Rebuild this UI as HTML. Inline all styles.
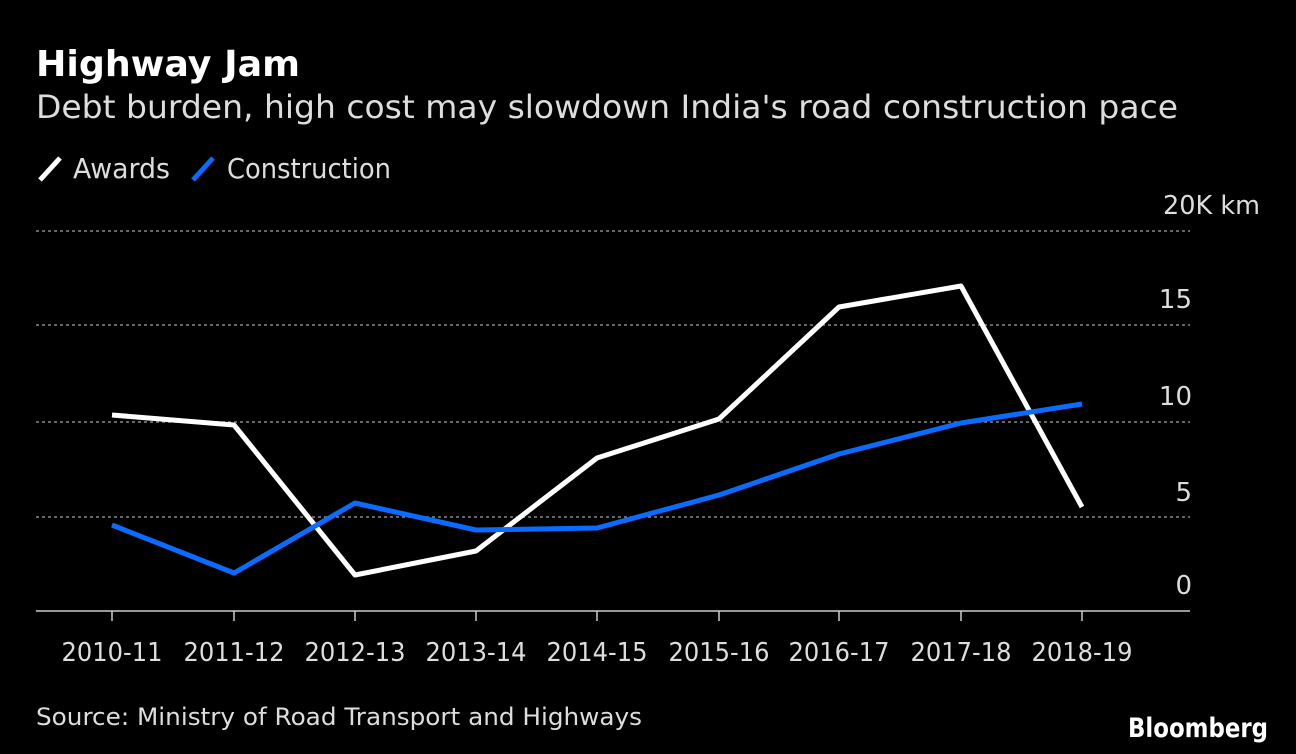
<!DOCTYPE html>
<html><head><meta charset="utf-8"><style>
html,body{margin:0;padding:0;background:#000;}
svg{display:block;}
text{font-family:"DejaVu Sans","Liberation Sans",sans-serif;fill:#ddd;}
</style></head><body>
<svg width="1296" height="754" viewBox="0 0 1296 754" xmlns="http://www.w3.org/2000/svg">
<rect width="1296" height="754" fill="#000"/>
<text x="36" y="76" font-size="36" font-weight="bold" style="fill:#fff" textLength="264" lengthAdjust="spacingAndGlyphs">Highway Jam</text>
<text x="36" y="118" font-size="32" textLength="1142" lengthAdjust="spacingAndGlyphs">Debt burden, high cost may slowdown India's road construction pace</text>
<line x1="40" y1="180" x2="60" y2="158" stroke="#fff" stroke-width="5"/>
<text x="73" y="178" font-size="28" textLength="97" lengthAdjust="spacingAndGlyphs">Awards</text>
<line x1="193" y1="180" x2="213" y2="158" stroke="#0a6cff" stroke-width="5"/>
<text x="227" y="178" font-size="28" textLength="164" lengthAdjust="spacingAndGlyphs">Construction</text>
<g stroke="#888" stroke-width="1.5" stroke-dasharray="3,3">
<line x1="36" y1="231" x2="1190" y2="231"/>
<line x1="36" y1="325" x2="1190" y2="325"/>
<line x1="36" y1="422" x2="1190" y2="422"/>
<line x1="36" y1="517" x2="1190" y2="517"/>
</g>
<line x1="36" y1="611" x2="1190" y2="611" stroke="#ccc" stroke-width="1.5"/>
<g font-size="26" text-anchor="end">
<text x="1260" y="214" textLength="97" lengthAdjust="spacingAndGlyphs">20K km</text>
<text x="1192" y="308">15</text>
<text x="1192" y="405">10</text>
<text x="1192" y="501">5</text>
<text x="1192" y="594">0</text>
</g>
<g stroke="#ccc" stroke-width="1.5">
<line x1="112" y1="611" x2="112" y2="621"/><line x1="234" y1="611" x2="234" y2="621"/><line x1="355" y1="611" x2="355" y2="621"/><line x1="476" y1="611" x2="476" y2="621"/><line x1="597" y1="611" x2="597" y2="621"/><line x1="719" y1="611" x2="719" y2="621"/><line x1="839" y1="611" x2="839" y2="621"/><line x1="961" y1="611" x2="961" y2="621"/><line x1="1082" y1="611" x2="1082" y2="621"/>
</g>
<g font-size="26" text-anchor="middle">
<text x="112" y="661" textLength="101" lengthAdjust="spacingAndGlyphs">2010-11</text><text x="234" y="661" textLength="101" lengthAdjust="spacingAndGlyphs">2011-12</text><text x="355" y="661" textLength="101" lengthAdjust="spacingAndGlyphs">2012-13</text><text x="476" y="661" textLength="101" lengthAdjust="spacingAndGlyphs">2013-14</text><text x="597" y="661" textLength="101" lengthAdjust="spacingAndGlyphs">2014-15</text><text x="719" y="661" textLength="101" lengthAdjust="spacingAndGlyphs">2015-16</text><text x="839" y="661" textLength="101" lengthAdjust="spacingAndGlyphs">2016-17</text><text x="961" y="661" textLength="101" lengthAdjust="spacingAndGlyphs">2017-18</text><text x="1082" y="661" textLength="101" lengthAdjust="spacingAndGlyphs">2018-19</text>
</g>
<polyline fill="none" stroke="#fff" stroke-width="5" stroke-linejoin="round" points="112,415 234,425 355,575 476,551 597,458 719,419 839,307 961,286 1082,507"/>
<polyline fill="none" stroke="#0a6cff" stroke-width="5" stroke-linejoin="round" points="112,525 234,573 355,503 476,530 597,528 719,495 839,454 961,423 1082,404"/>
<text x="36" y="725" font-size="24" textLength="606" lengthAdjust="spacingAndGlyphs">Source: Ministry of Road Transport and Highways</text>
<text x="1268" y="737" font-size="27" font-weight="bold" text-anchor="end" style="fill:#fff" textLength="140" lengthAdjust="spacingAndGlyphs">Bloomberg</text>
</svg>
</body></html>
